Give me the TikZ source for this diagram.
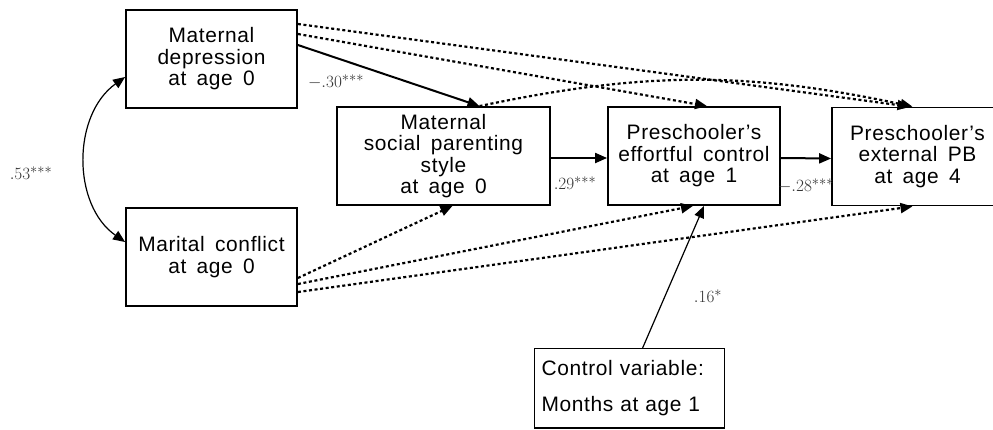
\documentclass[tikz,border=0pt]{standalone}
\usepackage{fontspec}
\setmainfont{Liberation Sans}[LetterSpace=3,WordSpace=1.6]
\usetikzlibrary{arrows.meta}
\begin{document}
\begin{tikzpicture}[x=1bp,y=1bp,
  box/.style={draw, line width=1.8bp, inner sep=0pt, align=center,
    font=\fontsize{21}{21.5}\selectfont},
  solidarrow/.style={line width=2bp, -{Triangle[length=12bp,width=10bp]}},
  thinarrow/.style={line width=1.2bp},
  dotarrow/.style={line width=2.2bp, dash pattern=on 3bp off 2.6bp, -{Triangle[length=12bp,width=10bp]}},
  coef/.style={font=\fontsize{19}{20}\selectfont, text=black!80, inner sep=0pt}]
\clip (0,0) rectangle (993,-429);
\node[box, minimum width=171bp, minimum height=98bp] (A) at (211.5,-59) {Maternal\\depression\\at age 0};
\node[box, minimum width=171bp, minimum height=98bp] (B) at (211.5,-257) {Marital conflict\\at age 0};
\node[box, minimum width=213bp, minimum height=98bp] (C) at (443.5,-156) {Maternal\\social parenting\\style\\at age 0};
\node[box, minimum width=172bp, minimum height=98bp] (D) at (694,-156) {Preschooler's\\effortful control\\at age 1};
\node[box, minimum width=171bp, minimum height=98bp] (E) at (917.5,-156.5) {Preschooler's\\external PB\\at age 4};
\node[draw, line width=1.2bp, anchor=north west, text width=176bp, align=left, inner xsep=7bp, inner ysep=12bp,
  font=\fontsize{21}{36}\selectfont] (F) at (534,-348) {Control variable:\\Months at age 1};
% paths
\draw[solidarrow] ([yshift=14bp]A.east) -- ([xshift=36bp]C.north);
\draw[dotarrow] ([yshift=25bp]A.east) -- ([xshift=13bp]D.north);
\draw[dotarrow] ([yshift=35bp]A.east) -- ([xshift=-8bp]E.north);
\draw[dotarrow] ([xshift=36bp]C.north) to[bend left=12] ([xshift=-5bp]E.north);
\draw[solidarrow] ([yshift=-2bp]C.east) -- ([yshift=-2bp]D.west);
\draw[solidarrow] ([yshift=-2bp]D.east) -- ([yshift=-2bp]E.west);
\draw[dotarrow] ([yshift=-21bp]B.east) -- ([xshift=9bp]C.south);
\draw[dotarrow] ([yshift=-27bp]B.east) -- ([xshift=-1bp]D.south);
\draw[dotarrow] ([yshift=-35bp]B.east) -- ([xshift=-5bp]E.south);
\draw[thinarrow, -{Triangle[length=12bp,width=10bp]}] ([xshift=13bp]F.north) -- ([xshift=10bp]D.south);
\draw[thinarrow, {Triangle[length=12bp,width=10bp]}-{Triangle[length=12bp,width=10bp]}]
  ([yshift=-18bp]A.west) .. controls (72,-115) and (72,-205) .. ([yshift=15bp]B.west);
% coefficients
\node[coef] (l1) at (31,-173) {$.53^{***}$};
\node[coef] (l2) at (336,-82) {$-.30^{***}$};
\node[coef] (l3) at (575,-183) {$.29^{***}$};
\node[coef] (l4) at (806,-186) {$-.28^{***}$};
\node[coef] (l5) at (708,-296) {$.16^{*}$};
\end{tikzpicture}
\end{document}
